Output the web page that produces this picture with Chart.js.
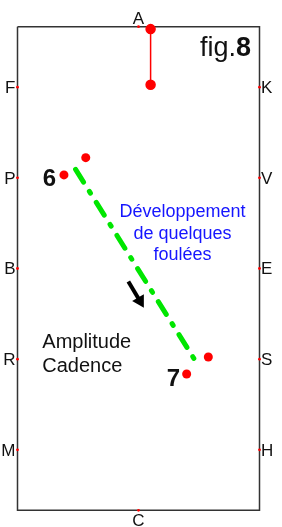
<!DOCTYPE html>
<html>
<head>
<meta charset="utf-8">
<script src="https://cdn.jsdelivr.net/npm/chart.js@4"></script>
<style>
  body { margin: 0; background: #fff; }
  canvas { display: block; }
</style>
</head>
<body>
<canvas id="arena" width="282" height="527"></canvas>
<script>
// Arena is 20 x 40 (A at the top, C at the bottom)
const arenaWidth = 20;
const arenaLength = 40;

// Letters along the long sides
const leftLetters = ['F', 'P', 'B', 'R', 'M'];
const rightLetters = ['K', 'V', 'E', 'S', 'H'];
const letterDist = [5, 12.5, 20, 27.5, 35];

// Red segment near A
const redLineX = [11, 11];
const redLineY = [0.2, 4.8];

// Markers 6 and 7
const markerX = [3.84, 5.64, 13.98, 15.77];
const markerY = [12.26, 10.83, 28.73, 27.32];

// Green diagonal (lengthening a few strides)
const diagX = [4.8, 14.8];
const diagY = [11.8, 27.8];

// Small black arrow showing the direction
const arrowX = [9.16, 10.12];
const arrowY = [21.07, 22.69];

const toPoints = (xs, ys) => xs.map((x, i) => ({ x: x, y: ys[i] }));

const tickPoints = [];
letterDist.forEach(d => {
    tickPoints.push({ x: 0, y: d });
    tickPoints.push({ x: arenaWidth, y: d });
});
tickPoints.push({ x: arenaWidth / 2, y: 0 });
tickPoints.push({ x: arenaWidth / 2, y: arenaLength });

const outline = [
    { x: 0, y: 0 }, { x: arenaWidth, y: 0 }, { x: arenaWidth, y: arenaLength },
    { x: 0, y: arenaLength }, { x: 0, y: 0 }
];

// Text labels drawn on top of the arena
const labelsPlugin = {
    id: 'labels',
    afterDatasetsDraw(chart) {
        const ctx = chart.ctx;
        const xs = chart.scales.x;
        const ys = chart.scales.y;
        const px = v => xs.getPixelForValue(v);
        const py = v => ys.getPixelForValue(v);
        ctx.save();

        // arena letters
        ctx.fillStyle = '#111';
        ctx.font = '17px "Liberation Sans", Arial, sans-serif';
        ctx.textBaseline = 'middle';
        ctx.textAlign = 'right';
        leftLetters.forEach((l, i) => ctx.fillText(l, px(0) - 2, py(letterDist[i]) + 1));
        ctx.textAlign = 'left';
        rightLetters.forEach((l, i) => ctx.fillText(l, px(arenaWidth) + 1.5, py(letterDist[i]) + 1));
        ctx.textAlign = 'center';
        ctx.textBaseline = 'alphabetic';
        ctx.fillText('A', px(arenaWidth / 2), py(0) - 2.5);
        ctx.fillText('C', px(arenaWidth / 2), py(arenaLength) + 16);

        // fig.8
        ctx.textAlign = 'left';
        ctx.font = 'bold 27px "Liberation Sans", Arial, sans-serif';
        const eightW = ctx.measureText('8').width;
        ctx.font = '27px "Liberation Sans", Arial, sans-serif';
        const figW = ctx.measureText('fig.').width;
        const figRight = px(19.3);
        const figBase = py(2.42);
        ctx.fillText('fig.', figRight - eightW - figW, figBase);
        ctx.font = 'bold 27px "Liberation Sans", Arial, sans-serif';
        ctx.fillText('8', figRight - eightW, figBase);

        // marker numbers
        ctx.textAlign = 'center';
        ctx.font = 'bold 24px "Liberation Sans", Arial, sans-serif';
        ctx.fillText('6', px(2.64), py(13.17));
        ctx.fillText('7', px(12.88), py(29.69));

        // blue caption
        ctx.fillStyle = '#1515ff';
        ctx.font = '18px "Liberation Sans", Arial, sans-serif';
        ctx.fillText('Développement', px(13.64), py(15.77));
        ctx.fillText('de quelques', px(13.64), py(17.55));
        ctx.fillText('foulées', px(13.64), py(19.32));

        // black caption
        ctx.fillStyle = '#111';
        ctx.textAlign = 'left';
        ctx.font = '20px "Liberation Sans", Arial, sans-serif';
        ctx.fillText('Amplitude', px(2.05), py(26.58));
        ctx.fillText('Cadence', px(2.05), py(28.6));

        ctx.restore();
    }
};

new Chart(document.getElementById('arena'), {
    type: 'scatter',
    data: {
        datasets: [
            {
                label: 'outline',
                data: outline,
                showLine: true,
                borderColor: '#333',
                borderWidth: 1.5,
                pointRadius: 0,
                clip: false,
                order: 6
            },
            {
                label: 'letter ticks',
                data: tickPoints,
                backgroundColor: 'red',
                borderWidth: 0,
                pointRadius: 1.4,
                clip: false,
                order: 5
            },
            {
                label: 'red line',
                data: toPoints(redLineX, redLineY),
                showLine: true,
                borderColor: 'red',
                backgroundColor: 'red',
                borderWidth: 1.5,
                pointRadius: 4.5,
                clip: false,
                order: 2
            },
            {
                label: 'markers',
                data: toPoints(markerX, markerY),
                backgroundColor: 'red',
                borderWidth: 0,
                pointRadius: 4.5,
                order: 1
            },
            {
                label: 'diagonal',
                data: toPoints(diagX, diagY),
                showLine: true,
                borderColor: 'rgb(0, 230, 0)',
                borderWidth: 5,
                borderDash: [15, 11, 2, 11],
                borderCapStyle: 'round',
                pointRadius: 0,
                order: 3
            },
            {
                label: 'arrow',
                data: toPoints(arrowX, arrowY),
                showLine: true,
                borderColor: '#000',
                backgroundColor: '#000',
                borderWidth: 4,
                pointRadius: [0, 3.8],
                pointStyle: 'triangle',
                rotation: 150,
                order: 4
            }
        ]
    },
    options: {
        responsive: false,
        animation: false,
        events: [],
        layout: {
            padding: { left: 17.5, right: 22.5, top: 26.7, bottom: 16.7 }
        },
        scales: {
            x: { type: 'linear', min: 0, max: arenaWidth, display: false },
            y: { type: 'linear', min: 0, max: arenaLength, reverse: true, display: false }
        },
        plugins: {
            legend: { display: false },
            tooltip: { enabled: false }
        }
    },
    plugins: [labelsPlugin]
});
</script>
</body>
</html>
